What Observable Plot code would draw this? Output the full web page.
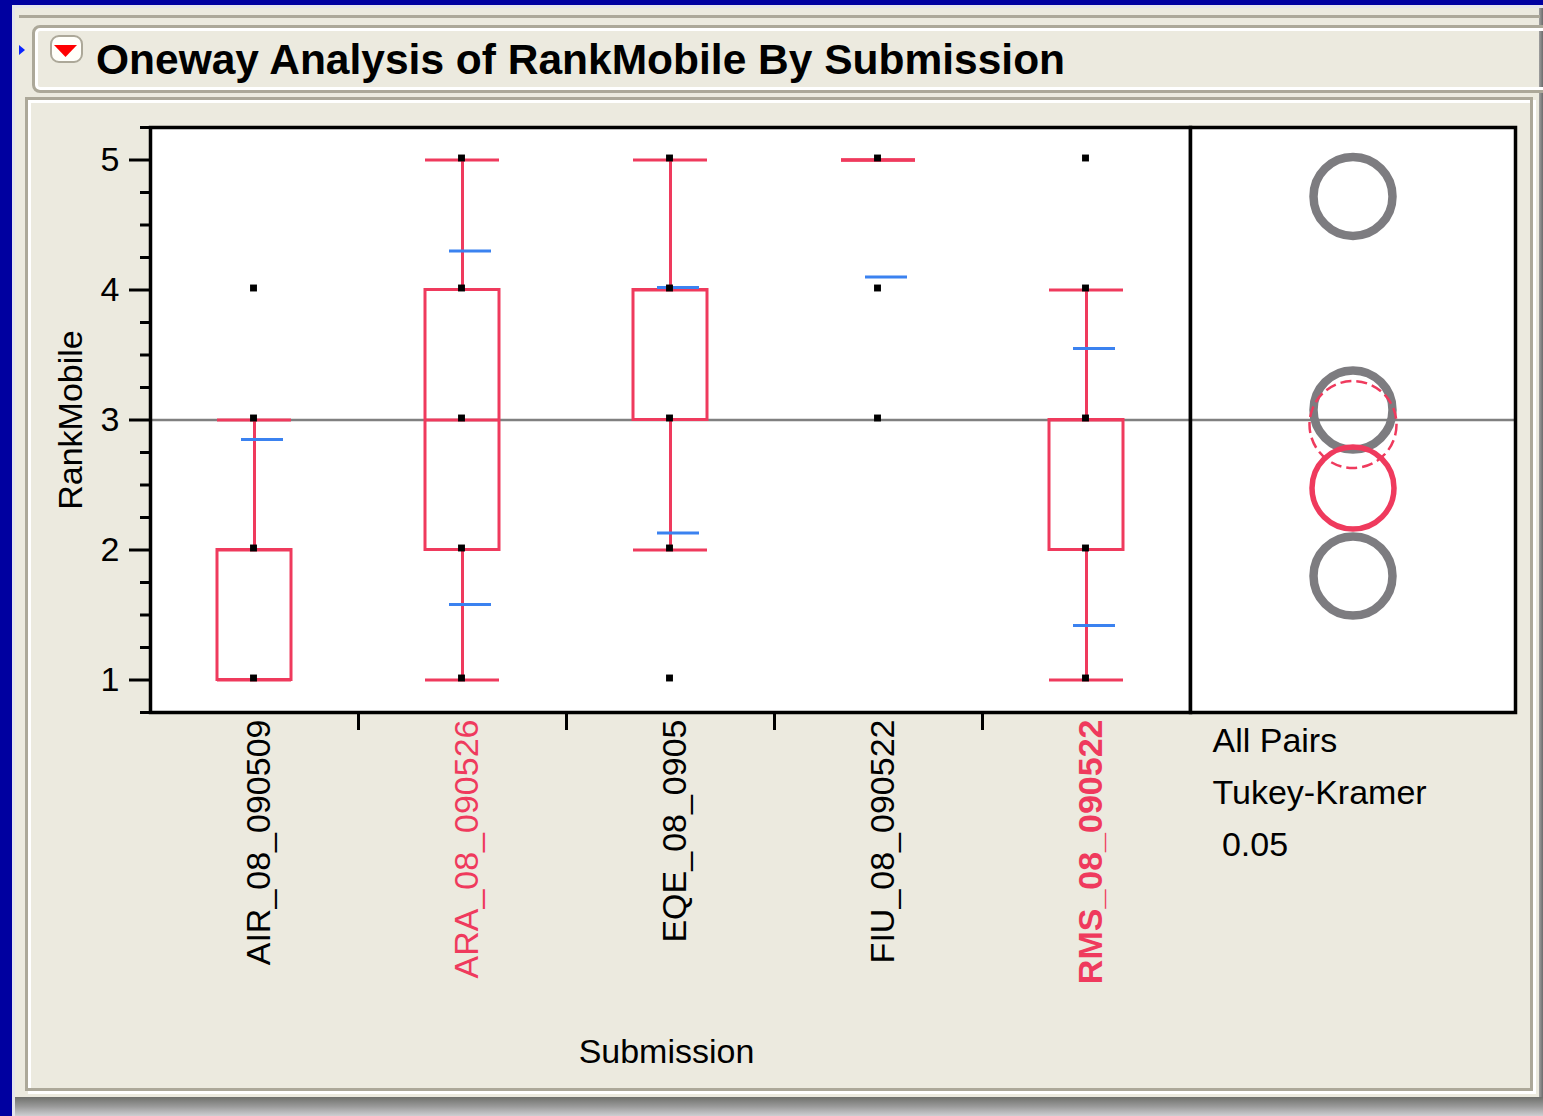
<!DOCTYPE html>
<html>
<head>
<meta charset="utf-8">
<script src="https://cdn.jsdelivr.net/npm/d3@7"></script>
<script src="https://cdn.jsdelivr.net/npm/@observablehq/plot@0.6"></script>
<style>
  html, body { margin: 0; padding: 0; }
  body { background: #0000a0; width: 1543px; height: 1116px; overflow: hidden; position: relative;
         font-family: "Liberation Sans", Arial, sans-serif; }
  .abs { position: absolute; box-sizing: border-box; }
</style>
</head>
<body>
<!-- window chrome -->
<div class="abs" style="left:12px;top:5px;width:1531px;height:1111px;background:#e4e4ec"></div>
<div class="abs" style="left:15px;top:8px;width:1524px;height:1089px;background:#eceadf"></div>
<div class="abs" style="left:1539px;top:8px;width:4px;height:1108px;background:linear-gradient(to right,#a0a0a0,#6c6c6c)"></div>
<div class="abs" style="left:15px;top:1097px;width:1528px;height:19px;background:linear-gradient(#6f706c,#9a9a9a 50%,#cfcfd2)"></div>
<div class="abs" style="left:19px;top:15px;width:1521px;height:3px;background:#aca899"></div>
<div class="abs" style="left:32px;top:25px;width:1540px;height:68px;border:3px solid #aca899;border-radius:8px;box-shadow:inset 0 0 0 3px #ffffff"></div>
<div class="abs" style="left:50px;top:35px;width:33px;height:28px;border:2px solid #aca899;border-radius:9px;background:#fffffa"></div>
<svg class="abs" style="left:0;top:0" width="100" height="80">
  <polygon points="19,45 25,50 19,55" fill="#0a24ff"></polygon>
  <polygon points="54,45 77,45 65.5,57" fill="#ff0000"></polygon>
</svg>
<div class="abs" style="left:96px;top:39px;font-weight:bold;font-size:42.5px;line-height:42px;white-space:nowrap;color:#000">Oneway Analysis of RankMobile By Submission</div>
<div class="abs" style="left:28px;top:100px;width:1508px;height:994px;border:3px solid #ffffff"></div>
<div class="abs" style="left:25px;top:97px;width:1508px;height:994px;border:3px solid #aca899"></div>

<div id="main" class="abs" style="left:0;top:100px"></div>
<div id="side" class="abs" style="left:1188px;top:100px"></div>

<script>
// ---------- data ----------
const categories   = ["AIR_08_090509", "ARA_08_090526", "EQE_08_0905", "FIU_08_090522", "RMS_08_090522"];
const q1           = [1, 2, 3, 5, 2];
const median       = [2, 3, 4, 5, 3];
const q3           = [2, 4, 4, 5, 3];
const whiskerLow   = [1, 1, 2, 5, 1];
const whiskerHigh  = [3, 5, 5, 5, 4];
const stdUpper     = [2.85, 4.30, 4.02, null, 3.55];
const stdLower     = [null, 1.58, 2.13, 4.10, 1.42];
const observed     = [[1, 2, 3, 4], [1, 2, 3, 4, 5], [1, 2, 3, 4, 5], [3, 4, 5], [1, 2, 3, 4, 5]];
const circleCenter = [1.80, 2.965, 3.077, 4.72, 2.477];
const circleKind   = ["different", "similar", "different", "different", "selected"];
const labelColor   = ["black", "red", "black", "black", "red"];
const labelBold    = [false, false, false, false, true];
const grandMean    = 3;
const yMajorTicks  = [1, 2, 3, 4, 5];
const yMinorTicks  = [0.75, 1.25, 1.5, 1.75, 2.25, 2.5, 2.75, 3.25, 3.5, 3.75, 4.25, 4.5, 4.75, 5.25];
const yDomain      = [0.75, 5.25];
const xLabel       = "Submission";
const yLabel       = "RankMobile";
const testLines    = ["All Pairs", "Tukey-Kramer", "\u00a00.05"];

// ---------- styles ----------
const RED = "#ef3a5d", BLUE = "#3b82f0", GRAY_LINE = "#808080", GRAY_CIRCLE = "#7d7c80";
const colorMap = {black: "#000000", red: RED};
const FONT = "'Liberation Sans', Arial, sans-serif";
const H = 980, MT = 27, MB = 368;
const W1 = 1192, ML = 150, MR = 2;
const bw = (W1 - ML - MR) / categories.length;

const boxes = categories.map((c, i) => ({cat: c, q1: q1[i], med: median[i], q3: q3[i], lo: whiskerLow[i], hi: whiskerHigh[i]}));
const caps = boxes.flatMap(b => [{cat: b.cat, v: b.lo}, {cat: b.cat, v: b.hi}]);
const stdLines = categories.flatMap((c, i) => [stdUpper[i], stdLower[i]].filter(v => v != null).map(v => ({cat: c, v})));
const points = categories.flatMap((c, i) => observed[i].map(v => ({cat: c, v})));
const labels = categories.map((c, i) => ({cat: c, color: colorMap[labelColor[i]], bold: labelBold[i]}));
const circles = categories.map((c, i) => ({cat: c, m: circleCenter[i], kind: circleKind[i]}));

const style = {background: "transparent", fontFamily: FONT, fontSize: "34px", color: "#000", overflow: "visible"};

const main = Plot.plot({
  width: W1, height: H, marginTop: MT, marginBottom: MB, marginLeft: ML, marginRight: MR,
  style,
  x: {type: "band", domain: categories, padding: 0},
  y: {domain: yDomain},
  color: {type: "identity"},
  marks: [
    Plot.frame({fill: "white", stroke: "none"}),
    Plot.ruleY([grandMean], {stroke: GRAY_LINE, strokeWidth: 2.5}),
    Plot.barY(boxes.filter(b => b.q3 > b.q1), {x: "cat", y1: "q1", y2: "q3", fill: "none", stroke: RED, strokeWidth: 3, insetLeft: 67, insetRight: 67}),
    Plot.ruleX(boxes, {x: "cat", y1: "q3", y2: "hi", stroke: RED, strokeWidth: 3}),
    Plot.ruleX(boxes, {x: "cat", y1: "lo", y2: "q1", stroke: RED, strokeWidth: 3}),
    Plot.tickY(caps, {x: "cat", y: "v", stroke: RED, strokeWidth: 3, insetLeft: 67, insetRight: 67}),
    Plot.tickY(boxes, {x: "cat", y: "med", stroke: RED, strokeWidth: 3, insetLeft: 67, insetRight: 67}),
    Plot.tickY(stdLines, {x: "cat", y: "v", stroke: BLUE, strokeWidth: 3, insetLeft: 91, insetRight: 75}),
    Plot.dot(points, {x: "cat", y: "v", symbol: "square", r: 3.9, fill: "black", stroke: "none", dx: -1, dy: -2}),
    Plot.axisY({ticks: yMinorTicks, tickSize: 10, tickFormat: () => "", strokeWidth: 3, label: null}),
    Plot.axisY({ticks: yMajorTicks, tickSize: 21, tickPadding: 10, tickFormat: d => `${d}`, strokeWidth: 3, label: null, fontSize: 34}),
    Plot.axisX({ticks: categories.slice(1), tickSize: 18, tickFormat: () => "", strokeWidth: 3, dx: -bw / 2, label: null}),
    Plot.text(labels.filter(d => !d.bold), {x: "cat", text: "cat", fill: "color", frameAnchor: "bottom", rotate: -90, textAnchor: "end", lineAnchor: "middle", dx: 5, dy: 7, fontSize: 34}),
    Plot.text(labels.filter(d => d.bold), {x: "cat", text: "cat", fill: "color", frameAnchor: "bottom", rotate: -90, textAnchor: "end", lineAnchor: "middle", dx: 5, dy: 7, fontSize: 34, fontWeight: "bold"}),
    Plot.text([xLabel], {text: d => d, frameAnchor: "bottom", textAnchor: "middle", lineAnchor: "bottom", dx: -4, dy: 350, fontSize: 34}),
    Plot.text([yLabel], {text: d => d, frameAnchor: "left", rotate: -90, textAnchor: "middle", lineAnchor: "top", dx: -93, fontSize: 34}),
    Plot.frame({stroke: "black", strokeWidth: 3.5})
  ]
});
document.getElementById("main").appendChild(main);

const side = Plot.plot({
  width: 329, height: H, marginTop: MT, marginBottom: MB, marginLeft: 2, marginRight: 2,
  style,
  y: {domain: yDomain, axis: null},
  marks: [
    Plot.frame({fill: "white", stroke: "none"}),
    Plot.ruleY([grandMean], {stroke: GRAY_LINE, strokeWidth: 2.5}),
    Plot.dot(circles.filter(d => d.kind === "different"), {y: "m", r: 39.5, fill: "none", stroke: GRAY_CIRCLE, strokeWidth: 8.5}),
    Plot.dot(circles.filter(d => d.kind === "similar"), {y: "m", r: 43.5, fill: "none", stroke: RED, strokeWidth: 2.5, strokeDasharray: "11,5"}),
    Plot.dot(circles.filter(d => d.kind === "selected"), {y: "m", r: 41, fill: "none", stroke: RED, strokeWidth: 5.5}),
    Plot.text([testLines.join("\n")], {text: d => d, frameAnchor: "bottom-left", textAnchor: "start", lineAnchor: "top", lineHeight: 1.53, dx: 22, dy: 3, fontSize: 34}),
    Plot.frame({stroke: "black", strokeWidth: 3.5})
  ]
});
document.getElementById("side").appendChild(side);
</script>
</body>
</html>
